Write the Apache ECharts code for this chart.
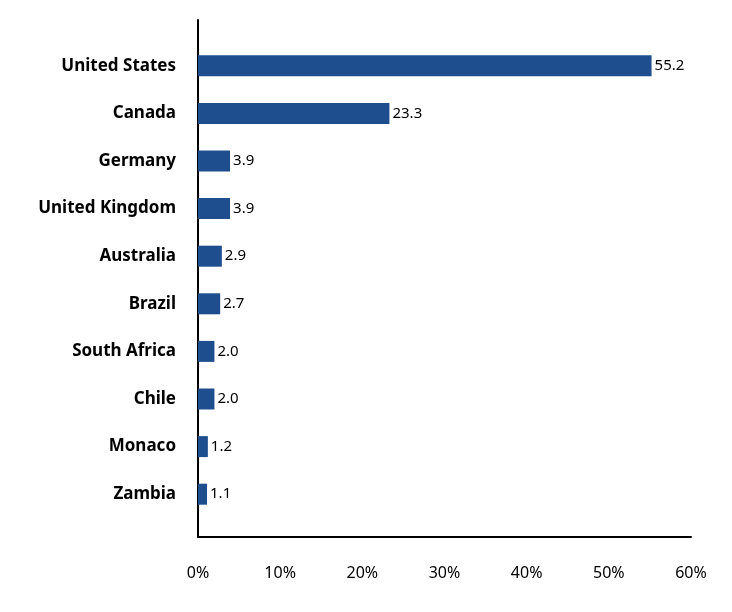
<!DOCTYPE html>
<html><head><meta charset="utf-8">
<script src="https://cdn.jsdelivr.net/npm/echarts@6/dist/echarts.min.js"></script>
<style>html,body{margin:0;padding:0;background:#fff}#c{width:732px;height:612px}</style>
</head><body><div id="c"></div>
<script>
var categories = ["United States","Canada","Germany","United Kingdom","Australia","Brazil","South Africa","Chile","Monaco","Zambia"];
var values = [55.2,23.3,3.9,3.9,2.9,2.7,2.0,2.0,1.2,1.1];
var xTicks = [0,10,20,30,40,50,60];

var chart = echarts.init(document.getElementById('c'));
var font = "Noto Sans";
chart.setOption({
  animation:false,
  grid:[
    {left:198,right:41,top:42,bottom:94},
    {left:198,right:41,top:20,bottom:75}
  ],
  xAxis:[
    {gridIndex:0,type:'value',min:0,max:60,interval:10,show:false},
    {gridIndex:1,type:'value',min:xTicks[0],max:xTicks[xTicks.length-1],interval:10,
     axisLine:{show:true,onZero:false,lineStyle:{color:'#000',width:2}},
     axisTick:{show:false},splitLine:{show:false},
     axisLabel:{margin:28,fontSize:16,color:'#000',fontFamily:font,formatter:'{value}%'}}
  ],
  yAxis:[
    {gridIndex:0,type:'category',data:categories,inverse:true,
     axisLine:{show:false},axisTick:{show:false},
     axisLabel:{margin:22,fontSize:17,fontWeight:'bold',color:'#000',fontFamily:font}},
    {gridIndex:1,type:'value',min:0,max:1,
     axisLine:{show:true,onZero:false,lineStyle:{color:'#000',width:2}},
     axisTick:{show:false},splitLine:{show:false},axisLabel:{show:false}}
  ],
  series:[{
    type:'bar',xAxisIndex:0,yAxisIndex:0,data:values,barWidth:21,
    itemStyle:{color:'#1F4E8E'},
    label:{show:true,position:'right',distance:3,fontSize:15,color:'#000',fontFamily:font,
      formatter:function(p){return p.value.toFixed(1);}}
  }]
});
</script></body></html>
